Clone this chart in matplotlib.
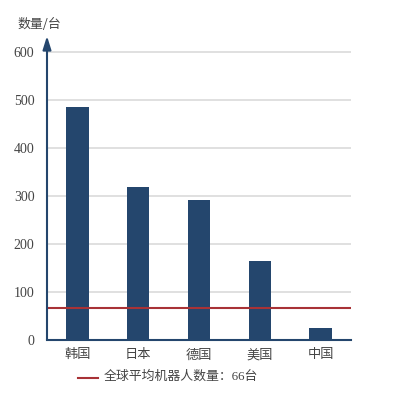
import matplotlib
matplotlib.use("Agg")
import matplotlib.pyplot as plt

categories = ["韩国", "日本", "德国", "美国", "中国"]
values = [485, 319, 292, 165, 25]
avg_value = 66
avg_label = "全球平均机器人数量：66台"
yticks = [0, 100, 200, 300, 400, 500, 600]

cjk = ["Noto Sans CJK SC", "DejaVu Sans"]
serif = ["Liberation Serif", "DejaVu Serif"]
mixed = ["Liberation Serif", "Noto Sans CJK SC", "DejaVu Sans"]
navy = "#24466d"
tick_color = "#444444"

fig = plt.figure(figsize=(3.93, 3.95), dpi=100)
W, H = 393, 395
left, right, bottom, top = 47, 351, 340, 36
ax = fig.add_axes([left / W, (H - bottom) / H, (right - left) / W, (bottom - top) / H])

ymax = (bottom - top) / 0.48
ax.set_ylim(0, ymax)
ax.set_xlim(-0.5, len(categories) - 0.5)

x = range(len(categories))
ax.bar(x, values, width=0.37, color=navy, zorder=3)
ax.axhline(avg_value, color="#a83236", lw=1.5, zorder=4)

for t in yticks[1:]:
    ax.axhline(t, color="#dddddd", lw=1.3, zorder=1)

for s in ["top", "right", "left"]:
    ax.spines[s].set_visible(False)
ax.spines["bottom"].set_color(navy)
ax.spines["bottom"].set_linewidth(1.5)
ax.spines["bottom"].set_zorder(5)

ax.annotate("", xy=(0, 1.0), xytext=(0, 0), xycoords="axes fraction",
            arrowprops=dict(arrowstyle="-|>,head_width=0.25,head_length=0.8", color=navy, lw=1.5,
                            shrinkA=0, shrinkB=0), zorder=6)

ax.set_yticks(yticks)
ax.set_yticklabels([str(t) for t in yticks], fontfamily=serif, fontsize=10, color=tick_color)
ax.tick_params(axis="y", length=0, pad=9)
ax.set_xticks(list(x))
ax.set_xticklabels(categories, fontfamily=cjk, fontsize=9.5, color=tick_color)
ax.tick_params(axis="x", length=0, pad=6)

fig.text(17 / W, 1 - 24 / H, "数量/台", fontfamily=cjk, fontsize=9.3, color=tick_color, va="center", ha="left")

# legend
fig.add_artist(plt.Line2D([78 / W, 98 / W], [1 - 378 / H, 1 - 378 / H], color="#a83236", lw=1.5))
fig.text(104 / W, 1 - 377 / H, avg_label, fontfamily=mixed, fontsize=9.3, color=tick_color, va="center", ha="left")

fig.savefig("out.png", dpi=100)
